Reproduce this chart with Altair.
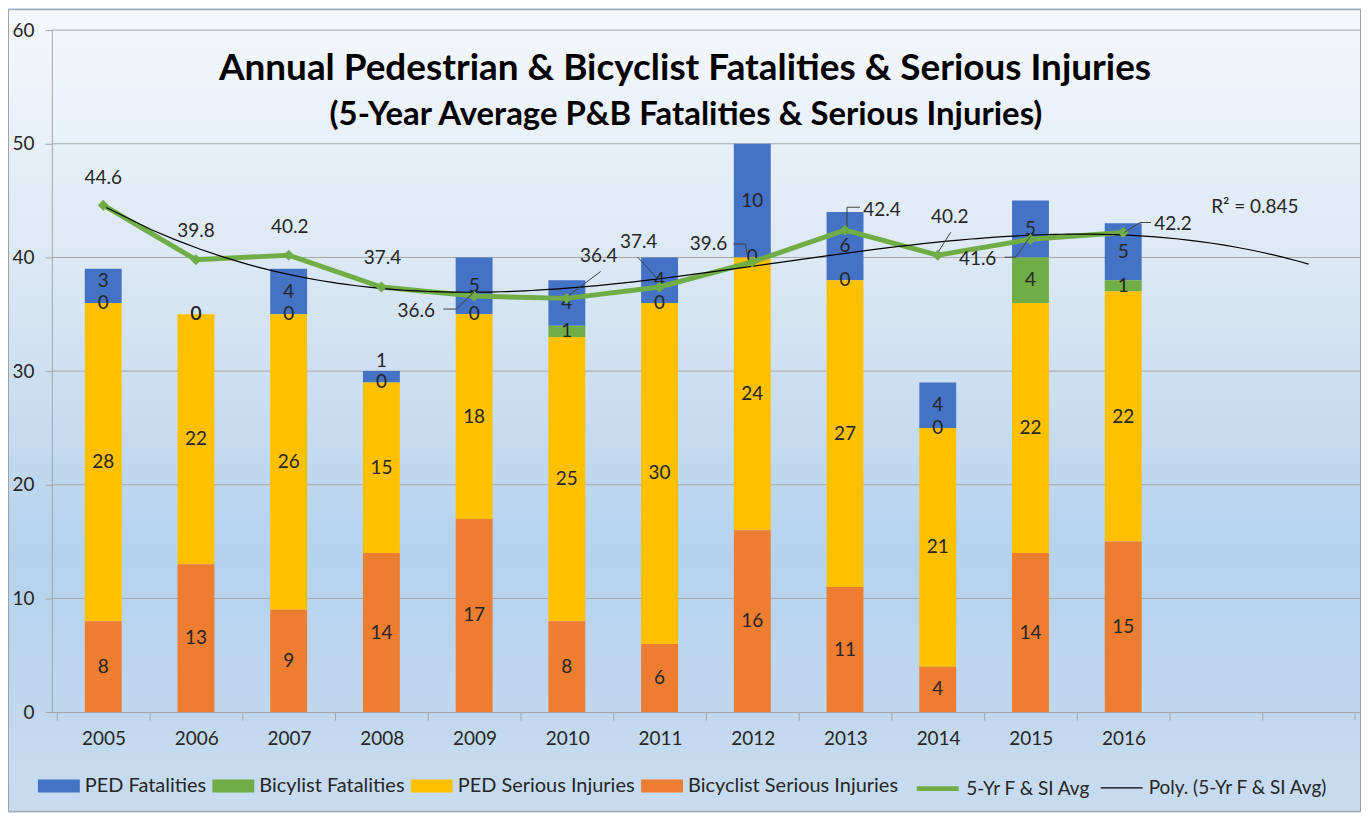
import altair as alt
import pandas as pd

# ---------------- data ----------------
years = ["2005", "2006", "2007", "2008", "2009", "2010",
         "2011", "2012", "2013", "2014", "2015", "2016"]
ped_fatalities = [3, 0, 4, 1, 5, 4, 4, 10, 6, 4, 5, 5]
bicyclist_fatalities = [0, 0, 0, 0, 0, 1, 0, 0, 0, 0, 4, 1]
ped_serious_injuries = [28, 22, 26, 15, 18, 25, 30, 24, 27, 21, 22, 22]
bicyclist_serious_injuries = [8, 13, 9, 14, 17, 8, 6, 16, 11, 4, 14, 15]
five_year_avg = [44.6, 39.8, 40.2, 37.4, 36.6, 36.4, 37.4, 39.6, 42.4, 40.2, 41.6, 42.2]

series_names = ["PED Fatalities", "Bicylist Fatalities",
                "PED Serious Injuries", "Bicyclist Serious Injuries"]
line_names = ["5-Yr F & SI Avg", "Poly. (5-Yr F & SI Avg)"]
y_ticks = [0, 10, 20, 30, 40, 50, 60]
extra_slots = 2          # empty categories on the right (trend forecast)
r2_label = "R² = 0.845"
r2_pos = {"idx": 13.42, "val": 44.4}
title_text = "Annual Pedestrian & Bicyclist Fatalities & Serious Injuries"
subtitle_text = "(5-Year Average P&B Fatalities & Serious Injuries)"

# ---------------- styles ----------------
series_colors = ["#4472C4", "#70AD47", "#FFC000", "#ED7D31"]
stack_rank = {"Bicyclist Serious Injuries": 0, "PED Serious Injuries": 1,
              "Bicylist Fatalities": 2, "PED Fatalities": 3}
line_colors = ["#70AD47", "#000000"]
FONT = "Lato"
TXT = "#262626"
GRID = "#a6a6a6"
W, H = 1312, 684
PAD = {"left": 44, "top": 21, "right": 1, "bottom": 100}
n_slots = len(years) + extra_slots
STEP = W / n_slots
# bar labels that are nudged (pixels) to avoid collisions, as in the original
bar_label_nudge = {("2008", "PED Fatalities"): -16, ("2005", "PED Fatalities"): -5}

# label offsets (pixels, relative to the point) and leader polylines
avg_label_offsets = {
    "2005": (0, -27), "2006": (0, -29), "2007": (1, -28), "2008": (1, -29),
    "2009": (-58, 15), "2010": (32, -42), "2011": (-21, -45), "2012": (-44, -18),
    "2013": (37, -20), "2014": (12, -38), "2015": (-53, 20), "2016": (50, -8),
}
leaders = {
    "2009": [(-31, 13), (-18, 13), (0, -4)],
    "2010": [(34, -27), (2, -3)],
    "2011": [(-22, -30), (-1, -7)],
    "2012": [(-19, -18), (-7, -18), (-4, -3)],
    "2013": [(15, -23), (2, -23), (2, -3)],
    "2014": [(13, -23), (1, -4)],
    "2015": [(-26, 18), (-15, 18), (0, -3)],
    "2016": [(28, -10), (17, -10), (1, 0)],
}

# ---------------- tables ----------------
rows = []
for i, yr in enumerate(years):
    for name, vals in zip(series_names, [ped_fatalities, bicyclist_fatalities,
                                         ped_serious_injuries, bicyclist_serious_injuries]):
        rows.append({"idx": i + 1, "year": yr, "series": name,
                     "value": vals[i], "rank": stack_rank[name],
                     "key": yr + "|" + name})
bars_df = pd.DataFrame(rows)
avg_df = pd.DataFrame({"idx": list(range(1, len(years) + 1)), "year": years,
                       "avg": five_year_avg, "line": line_names[0]})
one_row = pd.DataFrame({"t": [title_text], "s": [subtitle_text], "r": [r2_label],
                        "idx": [r2_pos["idx"]], "val": [r2_pos["val"]],
                        "edge": [n_slots + 0.5]})
grid_df = pd.DataFrame({"v": y_ticks[1:]})

# ---------------- scales / axes ----------------
x_scale = alt.Scale(domain=[0.5, n_slots + 0.5], nice=False, zero=False)
y_scale = alt.Scale(domain=[0, 60], nice=False)
labels_js = "[" + ",".join("'%s'" % y for y in years + [""] * extra_slots) + "]"
x_axis = alt.Axis(values=[i + 0.5 for i in range(n_slots)],
                  labelExpr=labels_js + "[round(datum.value - 0.5)]",
                  labelOffset=STEP / 2, labelFlush=False, labelOverlap=False,
                  grid=False, ticks=True, tickSize=8, tickColor=GRID, domainColor=GRID,
                  labelFont=FONT, labelFontSize=19, labelColor=TXT,
                  labelPadding=9, title=None, zindex=1)
y_axis = alt.Axis(values=y_ticks, grid=False, tickSize=7,
                  tickColor=GRID, domainColor=GRID, labelFont=FONT,
                  labelFontSize=19, labelColor=TXT, labelPadding=11, title=None, zindex=1)


def X(field="idx:Q"):
    return alt.X(field, scale=x_scale, axis=x_axis)


def Y(field):
    return alt.Y(field, scale=y_scale, axis=y_axis)


# ---------------- background ----------------
gradient = alt.LinearGradient(
    gradient="linear", x1=0, x2=0, y1=0, y2=1,
    stops=[alt.GradientStop(offset=0, color="#f5f8fc"),
           alt.GradientStop(offset=0.3, color="#dde9f5"),
           alt.GradientStop(offset=0.68, color="#b5d2ec"),
           alt.GradientStop(offset=1, color="#c8dcf0")])
bg = alt.Chart(one_row).mark_rect(color=gradient, stroke="#a0a0a0", strokeWidth=1).encode(
    x=alt.value(-PAD["left"] + 0.5), x2=alt.value(W + PAD["right"] - 0.5),
    y=alt.value(-PAD["top"] + 0.5), y2=alt.value(H + PAD["bottom"] - 0.5))
grid = alt.Chart(grid_df).mark_rule(color=GRID, strokeWidth=1).encode(y=Y("v:Q"))
# closing tick at the right end of the category axis
edge_tick = alt.Chart(one_row).mark_rule(color=GRID, strokeWidth=1).encode(
    x=X("edge:Q"), y=alt.value(H), y2=alt.value(H + 8))

# ---------------- bars ----------------
rect_path = "M-1,-0.31H1V0.31H-1Z"
bars = alt.Chart(bars_df).mark_bar(size=37).encode(
    x=X(),
    y=alt.Y("value:Q", stack="zero", scale=y_scale, axis=y_axis),
    color=alt.Color("series:N", scale=alt.Scale(domain=series_names, range=series_colors),
                    legend=alt.Legend(title=None, orient="none", legendX=-14, legendY=737,
                                      direction="horizontal", symbolType=rect_path,
                                      symbolSize=1764, symbolStrokeWidth=0, symbolOpacity=1,
                                      labelFont=FONT, labelFontSize=20, labelColor=TXT,
                                      labelOffset=5, columnPadding=6, padding=0,
                                      labelLimit=0)),
    order=alt.Order("rank:Q", sort="ascending"),
)
nudged = [k[0] + "|" + k[1] for k in bar_label_nudge]
stacked = alt.Chart(bars_df).transform_stack(
    stack="value", groupby=["idx"], as_=["y0", "y1"],
    sort=[alt.SortField("rank", order="ascending")]
).transform_calculate(mid="(datum.y0 + datum.y1) / 2")
label_style = dict(font=FONT, fontSize=19, color=TXT, baseline="middle")
bar_labels = [stacked.transform_filter(
    {"not": alt.FieldOneOfPredicate(field="key", oneOf=nudged)}
).mark_text(**label_style).encode(x=X(), y=Y("mid:Q"), text="value:Q")]
for (yr, nm), dy in bar_label_nudge.items():
    bar_labels.append(stacked.transform_filter(
        alt.FieldEqualPredicate(field="key", equal=yr + "|" + nm)
    ).mark_text(dy=dy, **label_style).encode(x=X(), y=Y("mid:Q"), text="value:Q"))

bar_group = alt.layer(bg, grid, edge_tick, bars, *bar_labels)

# ---------------- lines ----------------
line_legend = dict(title=None, orient="none", legendX=865, legendY=737,
                   direction="horizontal", symbolType="stroke", symbolSize=1764,
                   labelFont=FONT, labelFontSize=19, labelColor=TXT, labelOffset=5,
                   columnPadding=7, padding=0, labelLimit=0)
line_color = alt.Color("line:N", scale=alt.Scale(domain=line_names, range=line_colors),
                       legend=alt.Legend(**line_legend))
line_width = alt.StrokeWidth("line:N", scale=alt.Scale(domain=line_names, range=[5, 1.2]),
                             legend=alt.Legend(**line_legend))
avg_line = alt.Chart(avg_df).mark_line().encode(
    x=X(), y=Y("avg:Q"), color=line_color, strokeWidth=line_width)
poly_line = alt.Chart(avg_df).transform_regression(
    "idx", "avg", method="poly", order=3, extent=[1, n_slots]
).transform_calculate(line="'%s'" % line_names[1]).mark_line().encode(
    x=X(), y=Y("avg:Q"), color=line_color, strokeWidth=line_width)
line_group = alt.layer(avg_line, poly_line)

avg_points = alt.Chart(avg_df).mark_point(shape="diamond", filled=True, size=120,
                                          color=line_colors[0], opacity=1).encode(
    x=X(), y=Y("avg:Q"))

# ---------------- annotations ----------------
annots = []
for yr in years:
    dx, dy = avg_label_offsets[yr]
    annots.append(alt.Chart(avg_df).transform_filter(alt.datum.year == yr).mark_text(
        font=FONT, fontSize=19, color=TXT, dx=dx, dy=dy, baseline="middle").encode(
        x=X(), y=Y("avg:Q"), text=alt.Text("avg:Q", format=".1f")))
for yr, pts in leaders.items():
    for (ax, ay), (bx, by) in zip(pts[:-1], pts[1:]):
        annots.append(alt.Chart(avg_df).transform_filter(alt.datum.year == yr).mark_rule(
            color="#404040", strokeWidth=1, xOffset=ax, yOffset=ay, x2Offset=bx, y2Offset=by
        ).encode(x=X(), x2="idx:Q", y=Y("avg:Q"), y2="avg:Q"))

r2 = alt.Chart(one_row).mark_text(font=FONT, fontSize=19, color=TXT, baseline="middle").encode(
    x=X(), y=Y("val:Q"), text="r:N")
title = alt.Chart(one_row).mark_text(font=FONT, fontSize=37, fontWeight="bold",
                                     color="#000000", align="center").encode(
    x=alt.value(635), y=alt.value(39), text="t:N")
subtitle = alt.Chart(one_row).mark_text(font=FONT, fontSize=33, fontWeight="bold",
                                        color="#000000", align="center").encode(
    x=alt.value(636), y=alt.value(85), text="s:N")

chart = alt.layer(bar_group, line_group, avg_points, *annots, r2, title, subtitle).resolve_scale(
    color="independent", strokeWidth="independent"
).properties(
    width=W, height=H, padding=PAD, autosize=alt.AutoSizeParams(type="none")
).configure_view(strokeWidth=0).configure(background="#c8dcf0")

chart.save("out.html", embed_options={"renderer": "svg", "actions": False})
